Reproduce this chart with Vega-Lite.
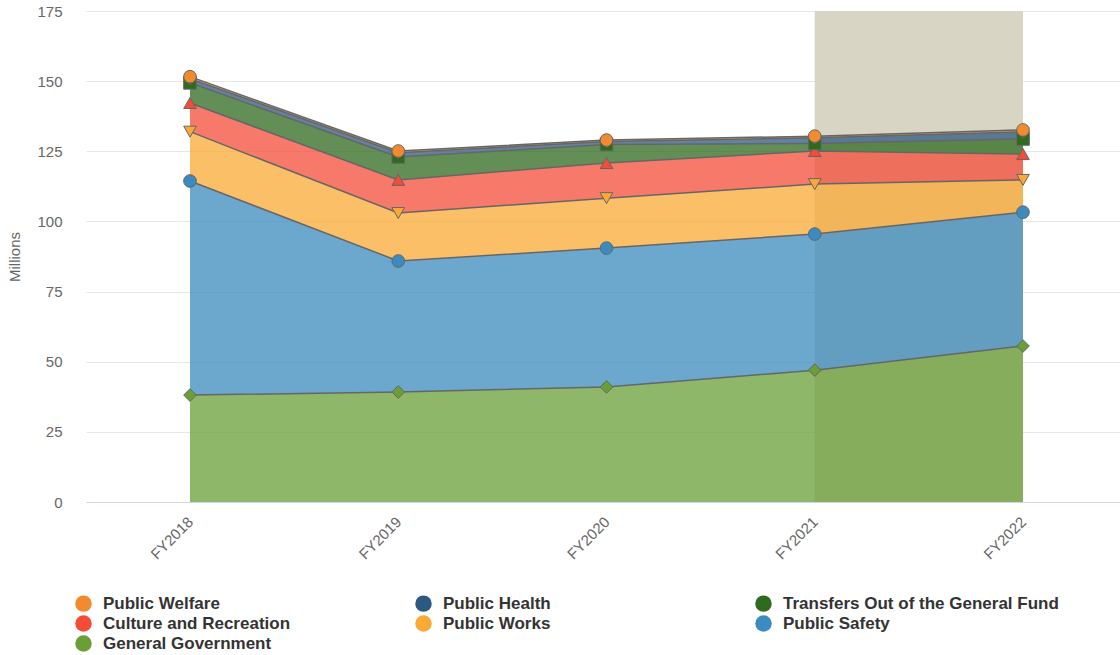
{
  "$schema": "https://vega.github.io/schema/vega-lite/v6.json",
  "width": 1034,
  "height": 491,
  "autosize": {"type": "none"},
  "padding": {"left": 86, "top": 11, "right": 0, "bottom": 153},
  "background": "#ffffff",
  "config": {
    "view": {"stroke": null},
    "font": "Liberation Sans"
  },
  "datasets": {
    "spend": [
      {"year": "FY2018", "series": "General Government", "rank": 1, "value": 38.1},
      {"year": "FY2019", "series": "General Government", "rank": 1, "value": 39.2},
      {"year": "FY2020", "series": "General Government", "rank": 1, "value": 41.0},
      {"year": "FY2021", "series": "General Government", "rank": 1, "value": 47.0},
      {"year": "FY2022", "series": "General Government", "rank": 1, "value": 55.6},
      {"year": "FY2018", "series": "Public Safety", "rank": 2, "value": 76.3},
      {"year": "FY2019", "series": "Public Safety", "rank": 2, "value": 46.7},
      {"year": "FY2020", "series": "Public Safety", "rank": 2, "value": 49.5},
      {"year": "FY2021", "series": "Public Safety", "rank": 2, "value": 48.5},
      {"year": "FY2022", "series": "Public Safety", "rank": 2, "value": 47.7},
      {"year": "FY2018", "series": "Public Works", "rank": 3, "value": 17.6},
      {"year": "FY2019", "series": "Public Works", "rank": 3, "value": 17.1},
      {"year": "FY2020", "series": "Public Works", "rank": 3, "value": 17.8},
      {"year": "FY2021", "series": "Public Works", "rank": 3, "value": 17.8},
      {"year": "FY2022", "series": "Public Works", "rank": 3, "value": 11.5},
      {"year": "FY2018", "series": "Culture and Recreation", "rank": 4, "value": 10.2},
      {"year": "FY2019", "series": "Culture and Recreation", "rank": 4, "value": 11.8},
      {"year": "FY2020", "series": "Culture and Recreation", "rank": 4, "value": 12.5},
      {"year": "FY2021", "series": "Culture and Recreation", "rank": 4, "value": 11.8},
      {"year": "FY2022", "series": "Culture and Recreation", "rank": 4, "value": 9.2},
      {"year": "FY2018", "series": "Transfers Out of the General Fund", "rank": 5, "value": 7.2},
      {"year": "FY2019", "series": "Transfers Out of the General Fund", "rank": 5, "value": 8.2},
      {"year": "FY2020", "series": "Transfers Out of the General Fund", "rank": 5, "value": 6.6},
      {"year": "FY2021", "series": "Transfers Out of the General Fund", "rank": 5, "value": 2.7},
      {"year": "FY2022", "series": "Transfers Out of the General Fund", "rank": 5, "value": 5.4},
      {"year": "FY2018", "series": "Public Health", "rank": 6, "value": 1.5},
      {"year": "FY2019", "series": "Public Health", "rank": 6, "value": 1.5},
      {"year": "FY2020", "series": "Public Health", "rank": 6, "value": 1.1},
      {"year": "FY2021", "series": "Public Health", "rank": 6, "value": 2.0},
      {"year": "FY2022", "series": "Public Health", "rank": 6, "value": 2.5},
      {"year": "FY2018", "series": "Public Welfare", "rank": 7, "value": 0.7},
      {"year": "FY2019", "series": "Public Welfare", "rank": 7, "value": 0.6},
      {"year": "FY2020", "series": "Public Welfare", "rank": 7, "value": 0.5},
      {"year": "FY2021", "series": "Public Welfare", "rank": 7, "value": 0.6},
      {"year": "FY2022", "series": "Public Welfare", "rank": 7, "value": 0.7}
    ],
    "band": [
      {"from": "FY2021", "to": "FY2022"}
    ]
  },
  "encoding": {
    "x": {
      "field": "year",
      "type": "ordinal",
      "scale": {"type": "point", "domain": ["FY2018", "FY2019", "FY2020", "FY2021", "FY2022"], "padding": 0.4826, "align": 0.5174},
      "axis": {
        "title": null,
        "labelAngle": -45,
        "labelAlign": "right",
        "labelBaseline": "middle",
        "labelFontSize": 15,
        "labelColor": "#666666",
        "labelPadding": 17,
        "ticks": false,
        "domainColor": "#ccd6eb",
        "domainWidth": 1,
        "grid": false
      }
    }
  },
  "resolve": {"legend": {"color": "independent", "shape": "independent"}},
  "layer": [
    {
      "data": {"name": "band"},
      "mark": {"type": "rect", "color": "#d9d5c5"},
      "encoding": {
        "x": {"field": "from", "type": "ordinal"},
        "x2": {"field": "to"}
      }
    },
    {
      "data": {"name": "spend"},
      "mark": {"type": "area", "opacity": 0.75},
      "encoding": {
        "y": {
          "field": "value",
          "type": "quantitative",
          "stack": "zero",
          "scale": {"domain": [0, 175], "nice": false},
          "axis": {
            "title": "Millions",
            "titleFontSize": 15,
            "titleFontWeight": "normal",
            "titleColor": "#666666",
            "titlePadding": 14,
            "values": [0, 25, 50, 75, 100, 125, 150, 175],
            "labelFontSize": 15,
            "labelColor": "#666666",
            "labelPadding": 24,
            "ticks": false,
            "domain": false,
            "gridColor": "#e6e6e6",
            "gridWidth": 1
          }
        },
        "color": {
          "field": "series",
          "type": "nominal",
          "scale": {
            "domain": ["Public Welfare", "Public Health", "Transfers Out of the General Fund", "Culture and Recreation", "Public Works", "Public Safety", "General Government"],
            "range": ["#f28a2e", "#2b5981", "#2f6a1f", "#f44c38", "#f9a935", "#3b8bbe", "#6a9f38"]
          },
          "legend": {
            "title": null,
            "orient": "none",
            "legendX": -11,
            "legendY": 584,
            "direction": "horizontal",
            "columns": 3,
            "gridAlign": "all",
            "columnPadding": 36,
            "rowPadding": 2,
            "padding": 0,
            "symbolType": "circle",
            "symbolSize": 272,
            "symbolOpacity": 1,
            "symbolStrokeWidth": 0,
            "labelFontSize": 17,
            "labelFontWeight": "bold",
            "labelColor": "#333333",
            "labelOffset": 11,
            "labelLimit": 400
          }
        },
        "order": {"field": "rank", "type": "quantitative"}
      }
    },
    {
      "data": {"name": "spend"},
      "mark": {"type": "line", "color": "#666666", "strokeWidth": 1.5},
      "encoding": {
        "y": {"field": "value", "type": "quantitative", "stack": "zero"},
        "detail": {"field": "series", "type": "nominal"},
        "order": {"field": "rank", "type": "quantitative"}
      }
    },
    {
      "data": {"name": "spend"},
      "mark": {"type": "point", "filled": true, "opacity": 1, "stroke": "#666666", "strokeWidth": 1, "size": 160},
      "encoding": {
        "y": {"field": "value", "type": "quantitative", "stack": "zero"},
        "color": {"field": "series", "type": "nominal", "legend": null},
        "shape": {
          "field": "series",
          "type": "nominal",
          "scale": {
            "domain": ["Public Welfare", "Public Health", "Transfers Out of the General Fund", "Culture and Recreation", "Public Works", "Public Safety", "General Government"],
            "range": ["circle", "diamond", "square", "triangle-up", "triangle-down", "circle", "diamond"]
          },
          "legend": null
        },
        "order": {"field": "rank", "type": "quantitative"}
      }
    }
  ]
}
